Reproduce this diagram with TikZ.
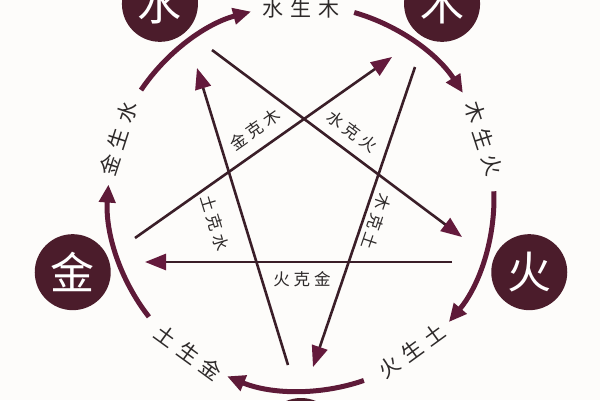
\documentclass[tikz,border=0pt]{standalone}
\usepackage{fontspec}
\newfontfamily\cjk{Noto Sans CJK SC}
\usetikzlibrary{arrows.meta,calc}
\definecolor{elemc}{HTML}{4B1C2B}
\definecolor{arcc}{HTML}{5E1A38}
\definecolor{linec}{HTML}{3A1E28}
\definecolor{headc}{HTML}{641A3C}
\definecolor{txt}{HTML}{2E2A2A}
\definecolor{bg}{HTML}{FDFCFA}
\newcommand{\cs}{\hspace{7pt}}
\newcommand{\ks}{\hspace{4pt}}
\begin{document}
\begin{tikzpicture}[x=1pt,y=1pt,
  cyc/.style={line width=5pt, draw=arcc, -{Triangle[length=18pt,width=16pt]}},
  ke/.style={line width=2.6pt, draw=linec, -{Triangle[length=21pt,width=16pt,color=headc]}},
  elem/.style={circle, fill=elemc, minimum size=76pt, inner sep=0pt, text=white, font=\cjk\fontsize{44}{44}\selectfont},
  clab/.style={font=\cjk\fontsize{21}{21}\selectfont, text=txt, inner sep=0pt},
  klab/.style={font=\cjk\fontsize{16.5}{16.5}\selectfont, text=txt, inner sep=0pt}]
\useasboundingbox (0,0) rectangle (600,-400);
\fill[bg] (0,0) rectangle (600,-400);
\clip (0,0) rectangle (600,-400);
\coordinate (C) at (301,-198);
% elements
\node[elem] (shui) at ($(C)+(126:240)$) {水};
\node[elem] (mu)   at ($(C)+(54:240)$) {木};
\node[elem] (huo)  at ($(C)+(-18:240)$) {火};
\node[elem] (tu)   at ($(C)+(-90:238)$) {土};
\node[elem] (jin)  at ($(C)+(198:240)$) {金};
% generating cycle arcs
\coordinate (a1) at ($(C)+(146:193)$);
\coordinate (a2) at ($(C)+(74:193)$);
\coordinate (a3) at ($(C)+(2:193)$);
\coordinate (a4) at ($(C)+(-71:193)$);
\coordinate (a5) at ($(C)+(218:193)$);
\draw[cyc] (a1) arc[start angle=146,end angle=105,radius=193];
\draw[cyc] (a2) arc[start angle=74,end angle=33,radius=193];
\draw[cyc] (a3) arc[start angle=2,end angle=-40,radius=193];
\draw[cyc] (a4) arc[start angle=-71,end angle=-112.5,radius=193];
\draw[cyc] (a5) arc[start angle=218,end angle=176,radius=193];
% cycle labels
\node[clab] (s1) at ($(C)+(90:189)$) {水\cs 生\cs 木};
\node[clab,rotate=-72] (s2) at ($(C)+(18:192)$) {木\cs 生\cs 火};
\node[clab,rotate=36] (s3) at ($(C)+(-54:189)$) {火\cs 生\cs 土};
\node[clab,rotate=-36] (s4) at ($(C)+(-126:191)$) {土\cs 生\cs 金};
\node[clab,rotate=72] (s5) at ($(C)+(162:192)$) {金\cs 生\cs 水};
% star endpoints
\coordinate (p1s) at (135,-238); \coordinate (p1e) at (392,-57);
\coordinate (p2s) at (212,-50);  \coordinate (p2e) at (462,-237);
\coordinate (p3s) at (415,-67);  \coordinate (p3e) at (313,-367);
\coordinate (p4s) at (288,-365); \coordinate (p4e) at (197,-68);
\coordinate (p5s) at (452,-262); \coordinate (p5e) at (145,-262);
\draw[ke] (p1s) -- (p1e);
\draw[ke] (p2s) -- (p2e);
\draw[ke] (p3s) -- (p3e);
\draw[ke] (p4s) -- (p4e);
\draw[ke] (p5s) -- (p5e);
% overcoming labels
\node[klab,rotate=35] (k1) at (255,-129.5) {金\ks 克\ks 木};
\node[klab,rotate=-36.8] (k2) at (352,-131.5) {水\ks 克\ks 火};
\node[klab,rotate=-108.7] (k3) at (376,-222) {木\ks 克\ks 土};
\node[klab,rotate=-73] (k4) at (215,-223) {土\ks 克\ks 水};
\node[klab] (k5) at (302,-279) {火\ks 克\ks 金};
\end{tikzpicture}
\end{document}
